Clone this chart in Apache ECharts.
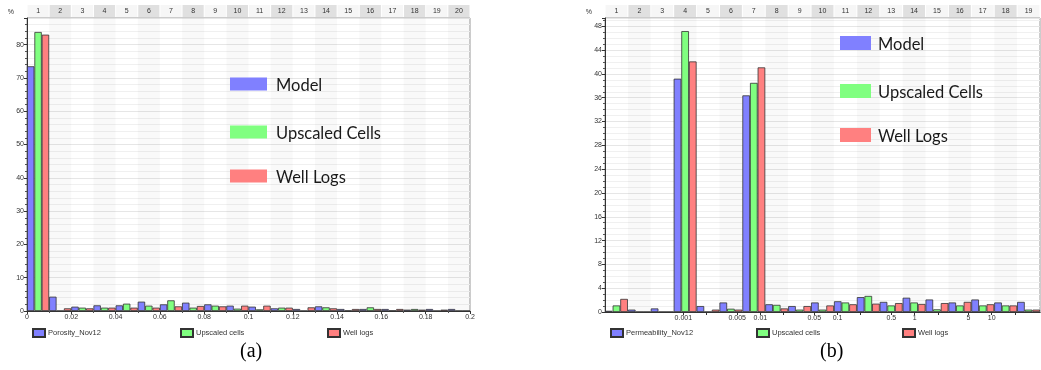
<!DOCTYPE html>
<html>
<head>
<meta charset="utf-8">
<script src="https://cdn.jsdelivr.net/npm/echarts@6/dist/echarts.min.js"></script>
<style>
  html, body { margin: 0; padding: 0; background: #fff; }
  #main { width: 1041px; height: 370px; }
</style>
</head>
<body>
<div id="main"></div>
<script>
// (a) porosity histogram, 20 bins of 0.01
var binsA = ['1','2','3','4','5','6','7','8','9','10','11','12','13','14','15','16','17','18','19','20'];
var modelA    = [73.5, 4.3, 1.3, 1.7, 1.7, 2.8, 2.0, 2.5, 2.0, 1.6, 1.3, 0.8, 0.6, 1.4, 0.6, 0.6, 0.6, 0.4, 0.6, 0.6];
var upscaledA = [83.8, 0, 1.0, 1.0, 2.2, 1.6, 3.2, 1.0, 1.6, 0.7, 0.5, 1.0, 0, 1.1, 0.1, 1.1, 0.1, 0.6, 0, 0];
var wellA     = [83.0, 0.8, 0.8, 1.0, 1.0, 1.0, 1.4, 1.5, 1.4, 1.6, 1.6, 1.0, 1.1, 0.8, 0.6, 0.6, 0.6, 0.4, 0.4, 0];
var porosityMin = 0, porosityMax = 0.2, porosityStep = 0.02;

// (b) permeability histogram, 19 bins (log scale)
var binsB = ['1','2','3','4','5','6','7','8','9','10','11','12','13','14','15','16','17','18','19'];
var modelB    = [0.2, 0.4, 0.6, 39.2, 1.0, 1.6, 36.4, 1.3, 1.0, 1.6, 1.8, 2.5, 1.7, 2.4, 2.1, 1.6, 2.1, 1.6, 1.7];
var upscaledB = [1.1, 0, 0, 47.2, 0, 0.55, 38.5, 1.2, 0.4, 0.4, 1.6, 2.7, 1.1, 1.6, 0.45, 1.1, 1.1, 1.1, 0.4];
var wellB     = [2.2, 0, 0, 42.1, 0.4, 0.4, 41.1, 0.6, 1.0, 1.1, 1.3, 1.4, 1.5, 1.35, 1.5, 1.7, 1.3, 1.1, 0.4];
var permTicks = [0.001, 0.005, 0.01, 0.05, 0.1, 0.5, 1, 5, 10];
var permMinor = [0.002, 0.02, 0.2, 2, 20];
var permLogMin = -4.016, permLogMax = 1.627;

var keyLabels = ['Model', 'Upscaled Cells', 'Well Logs'];
var colors = ['#8080ff', '#80ff80', '#ff8080'];
var small = 'Liberation Sans Narrow, Liberation Sans, sans-serif';

var myChart = echarts.init(document.getElementById('main'));

function headerAxis(grid, data, w) {
    return {
        type: 'category', gridIndex: grid, position: 'top', data: data,
        axisLine: { lineStyle: { color: '#333' } },
        axisTick: { length: 2, lineStyle: { color: '#333' } },
        axisLabel: {
            margin: 1, interval: 0, fontFamily: small, fontSize: 7, color: '#333',
            formatter: function (v, i) { return (i % 2 ? '{b|' : '{a|') + v + '}'; },
            rich: {
                a: { width: w - 1, height: 12, align: 'center', backgroundColor: '#f6f6f6' },
                b: { width: w - 1, height: 12, align: 'center', backgroundColor: '#e0e0e0' }
            }
        },
        splitLine: { show: false },
        splitArea: { show: true, areaStyle: { color: ['rgba(255,255,255,0)', 'rgba(0,0,0,0.025)'] } }
    };
}

function yAxisFor(grid, max, step, minorSplit) {
    return {
        type: 'value', gridIndex: grid, min: 0, max: max, interval: step,
        name: '%', nameLocation: 'end', nameGap: 2,
        nameTextStyle: { fontFamily: small, fontSize: 7, color: '#333', align: 'right', padding: [0, 13, 0, 0] },
        axisLine: { show: true, onZero: false, lineStyle: { color: '#333' } },
        axisTick: { show: true, length: 3, lineStyle: { color: '#333' } },
        minorTick: { show: true, splitNumber: minorSplit, length: 2, lineStyle: { color: '#555' } },
        axisLabel: { fontFamily: small, fontSize: 7, color: '#333', margin: 3, showMaxLabel: false },
        splitLine: { lineStyle: { color: '#e6e6e6' } },
        minorSplitLine: { show: true, lineStyle: { color: '#f0f0f0' } }
    };
}

function barSeries(name, xi, yi, data, c) {
    return {
        name: name, type: 'bar', xAxisIndex: xi, yAxisIndex: yi, data: data,
        barGap: '0%', barCategoryGap: '0%',
        itemStyle: { color: c, borderColor: '#333', borderWidth: 0.8 }
    };
}

function legendItem(name, left) {
    return {
        data: [name], left: left, top: 323, icon: 'rect',
        itemWidth: 12, itemHeight: 8, itemGap: 2,
        textStyle: { fontFamily: small, fontSize: 7.5, color: '#333', padding: [0, 0, 0, -2] }
    };
}

function keyGraphics(x, w, tx, rows, h) {
    var out = [];
    keyLabels.forEach(function (label, i) {
        out.push({ type: 'rect', z: 100, left: x, top: rows[i] - h / 2, shape: { width: w, height: h }, style: { fill: colors[i] } });
        out.push({ type: 'text', z: 100, left: tx, top: rows[i] - 7, style: { text: label, fontFamily: 'Lato, sans-serif', fontSize: 16.5, fill: '#1a1a1a' } });
    });
    return out;
}

var permLabelVals = permTicks.map(function (t) { return Math.log10(t); });

var option = {
    animation: false,
    backgroundColor: '#fff',
    grid: [
        { left: 27, top: 18, width: 443, height: 293, show: true, borderColor: '#999', borderWidth: 1, outerBoundsMode: 'none' },
        { left: 605, top: 18, width: 435, height: 294, show: true, borderColor: '#999', borderWidth: 1, outerBoundsMode: 'none' }
    ],
    xAxis: [
        headerAxis(0, binsA, 443 / binsA.length),
        {
            type: 'value', gridIndex: 0, position: 'bottom',
            min: porosityMin, max: porosityMax, interval: porosityStep,
            axisLine: { onZero: false, lineStyle: { color: '#333' } },
            axisTick: { length: 3, lineStyle: { color: '#333' } },
            minorTick: { show: true, splitNumber: 2, length: 2, lineStyle: { color: '#555' } },
            axisLabel: {
                fontFamily: small, fontSize: 7, color: '#333', margin: 3,
                formatter: function (v) { return String(Number(v.toFixed(2))); }
            },
            splitLine: { show: false }
        },
        headerAxis(1, binsB, 435 / binsB.length),
        {
            type: 'value', gridIndex: 1, position: 'bottom',
            min: permLogMin, max: permLogMax,
            axisLine: { onZero: false, lineStyle: { color: '#333' } },
            axisTick: { length: 3, customValues: permLabelVals.concat(permMinor.map(Math.log10)), lineStyle: { color: '#333' } },
            axisLabel: {
                fontFamily: small, fontSize: 7, color: '#333', margin: 3,
                customValues: permLabelVals,
                formatter: function (v) {
                    for (var i = 0; i < permTicks.length; i++) {
                        if (Math.abs(permLabelVals[i] - v) < 1e-6) return String(permTicks[i]);
                    }
                    return '';
                }
            },
            splitLine: { show: false }
        }
    ],
    yAxis: [
        yAxisFor(0, 88, 10, 5),
        yAxisFor(1, 49.4, 4, 4)
    ],
    legend: [
        legendItem('Porosity_Nov12', 27),
        legendItem('Upscaled cells', 175),
        legendItem('Well logs', 322),
        legendItem('Permeability_Nov12', 605),
        legendItem('Upscaled cells', 751),
        legendItem('Well logs', 897)
    ],
    series: [
        barSeries('Porosity_Nov12', 0, 0, modelA, colors[0]),
        barSeries('Upscaled cells', 0, 0, upscaledA, colors[1]),
        barSeries('Well logs', 0, 0, wellA, colors[2]),
        barSeries('Permeability_Nov12', 2, 1, modelB, colors[0]),
        barSeries('Upscaled cells', 2, 1, upscaledB, colors[1]),
        barSeries('Well logs', 2, 1, wellB, colors[2])
    ],
    graphic: keyGraphics(230, 37, 276, [84, 132, 176], 13)
        .concat(keyGraphics(840, 31, 878, [43, 91, 135], 14))
        .concat([
            { type: 'text', z: 100, left: 240, top: 342, style: { text: '(a)', fontFamily: 'Liberation Serif, serif', fontSize: 20, fill: '#000' } },
            { type: 'text', z: 100, left: 820, top: 342, style: { text: '(b)', fontFamily: 'Liberation Serif, serif', fontSize: 20, fill: '#000' } }
        ])
};

myChart.setOption(option);
</script>
</body>
</html>
